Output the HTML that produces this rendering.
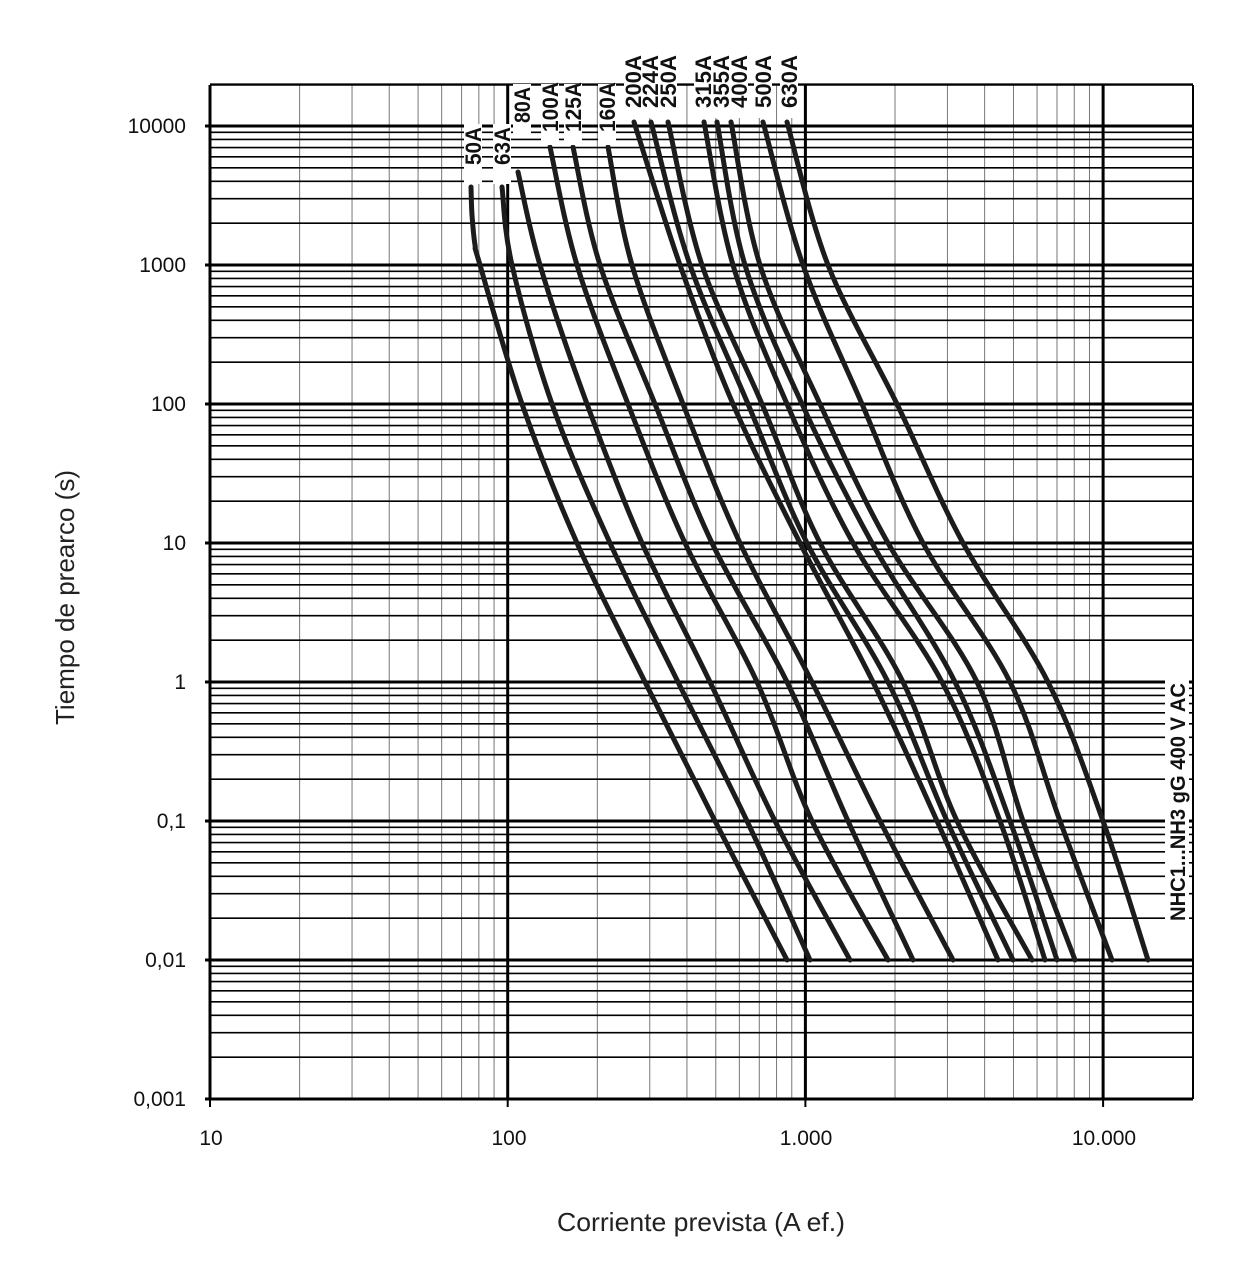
<!DOCTYPE html>
<html><head><meta charset="utf-8"><style>
html,body{margin:0;padding:0;background:#fff;}
svg{display:block;}
</style></head><body>
<svg id="s" width="1257" height="1280" xmlns="http://www.w3.org/2000/svg" font-family="Liberation Sans, Arial, sans-serif">
<g id="grid"></g>
<g id="curves" fill="none" stroke="#1c1c1c" stroke-width="5" stroke-linecap="round" stroke-linejoin="round"></g>
<g id="labels"></g>
<g font-size="21" fill="#111" text-anchor="end">
<text x="186" y="133">10000</text>
<text x="186" y="272">1000</text>
<text x="186" y="411">100</text>
<text x="186" y="550">10</text>
<text x="186" y="689">1</text>
<text x="186" y="828">0,1</text>
<text x="186" y="967">0,01</text>
<text x="186" y="1106">0,001</text>
</g>
<g font-size="21" fill="#111" text-anchor="middle">
<text x="211" y="1145">10</text>
<text x="509" y="1145">100</text>
<text x="806" y="1145">1.000</text>
<text x="1104" y="1145">10.000</text>
</g>
<text x="557" y="1231" font-size="26" textLength="288" lengthAdjust="spacingAndGlyphs" fill="#222">Corriente prevista (A ef.)</text>
<text transform="translate(74,725) rotate(-90)" font-size="26" textLength="255" lengthAdjust="spacingAndGlyphs" fill="#222">Tiempo de prearco (s)</text>
</svg>
<script>
var NS="http://www.w3.org/2000/svg";
function el(p,n,a,t){var e=document.createElementNS(NS,n);for(var k in a)e.setAttribute(k,a[k]);if(t)e.textContent=t;p.appendChild(e);return e;}
var g=document.getElementById('grid');
var X0=210,XD=297.7,Y0=1099,YD=139,L=210,R=1193,T=85,B=1099;
function xp(v){return X0+Math.log10(v/10)*XD;}
function yp(v){return Y0-Math.log10(v/0.001)*YD;}
for(var d=10;d<=10000;d*=10){for(var m=1;m<10;m++){var v=d*m;var x=xp(v);if(x>R+1)continue;
 if(m==1)el(g,'line',{x1:x,y1:T,x2:x,y2:B,stroke:'#000','stroke-width':3});
 else el(g,'line',{x1:x,y1:T,x2:x,y2:B,stroke:'#777','stroke-width':1});}}
for(var d=0.001;d<=10001;d*=10){for(var m=1;m<10;m++){var v=d*m;var y=yp(v);if(y<T-1)continue;
 if(m==1)el(g,'line',{x1:L-5,y1:y,x2:R,y2:y,stroke:'#000','stroke-width':3});
 else el(g,'line',{x1:L,y1:y,x2:R,y2:y,stroke:'#000','stroke-width':1.6});}}
el(g,'line',{x1:L,y1:T,x2:L,y2:B,stroke:'#000','stroke-width':2});
el(g,'line',{x1:R,y1:T,x2:R,y2:B,stroke:'#000','stroke-width':2});
el(g,'line',{x1:L,y1:T,x2:R,y2:T,stroke:'#000','stroke-width':1.5});
el(g,'line',{x1:L,y1:B,x2:R,y2:B,stroke:'#000','stroke-width':2});
for(var d=10;d<=10000;d*=10)el(g,'line',{x1:xp(d),y1:B,x2:xp(d),y2:B+8,stroke:'#000','stroke-width':2});
var ys=[265,404,543,682,821,960];
var C=[
[471,187,[480,522,577,645,715,787],[[472,215],[475,245]]],
[502,187,[512,552,610,678,747,810],[]],
[518,172,[540,587,642,710,775,850],[]],
[550,147,[577,628,685,757,812,888],[]],
[573,147,[600,655,712,787,848,913],[]],
[608,147,[632,683,740,812,880,953],[]],
[634,122,[680,733,800,873,937,998],[]],
[651,122,[690,748,807,888,947,1013],[]],
[668,122,[702,762,820,903,957,1032],[]],
[704,122,[733,787,853,942,1000,1045],[]],
[717,122,[745,802,872,955,1010,1057],[]],
[731,122,[760,820,888,977,1023,1075],[]],
[763,122,[803,862,923,1010,1060,1112],[]],
[787,122,[828,897,963,1048,1103,1148],[]]
];
var cg=document.getElementById('curves');
C.forEach(function(c){
 var pts=[[c[0],c[1]]].concat(c[3]);
 c[2].forEach(function(x,i){pts.push([x,ys[i]]);});
 var d='M'+pts[0][0]+','+pts[0][1];
 for(var i=0;i<pts.length-1;i++){
  var p0=pts[Math.max(0,i-1)],p1=pts[i],p2=pts[i+1],p3=pts[Math.min(pts.length-1,i+2)];
  var c1x=p1[0]+(p2[0]-p0[0])/6,c1y=p1[1]+(p2[1]-p0[1])/6,c2x=p2[0]-(p3[0]-p1[0])/6,c2y=p2[1]-(p3[1]-p1[1])/6;
  d+=' C'+c1x.toFixed(1)+','+c1y.toFixed(1)+' '+c2x.toFixed(1)+','+c2y.toFixed(1)+' '+p2[0]+','+p2[1];
 }
 el(cg,'path',{d:d});
});
var lg=document.getElementById('labels');
var labs=[['50A',473,165,38,124,184],['63A',502,165,38,124,184],['80A',522,123,36,84,135],['100A',550,132,50,84,145],['125A',573,132,50,84,145],['160A',607,132,50,84,145],
['200A',633,108,53,52,118],['224A',650,108,53,52,118],['250A',668,108,53,52,118],['315A',703,108,53,52,118],['355A',721,108,53,52,118],['400A',739,108,53,52,118],['500A',763,108,53,52,118],['630A',789,108,53,52,118]];
labs.forEach(function(l){
 el(lg,'rect',{x:l[1]-9,y:l[4],width:18,height:l[5]-l[4],fill:'#fff'});
});
labs.forEach(function(l){
 el(lg,'text',{transform:'translate('+(l[1]+8)+','+l[2]+') rotate(-90)','font-size':22,'font-weight':'bold',fill:'#111',textLength:l[3],lengthAdjust:'spacingAndGlyphs'},l[0]);
});
el(lg,'rect',{x:1165,y:680,width:24,height:244,fill:'#fff'});
el(lg,'text',{transform:'translate(1185,921) rotate(-90)','font-size':21,'font-weight':'bold',fill:'#111',textLength:238,lengthAdjust:'spacingAndGlyphs'},'NHC1...NH3 gG  400 V AC');
</script>
</body></html>
